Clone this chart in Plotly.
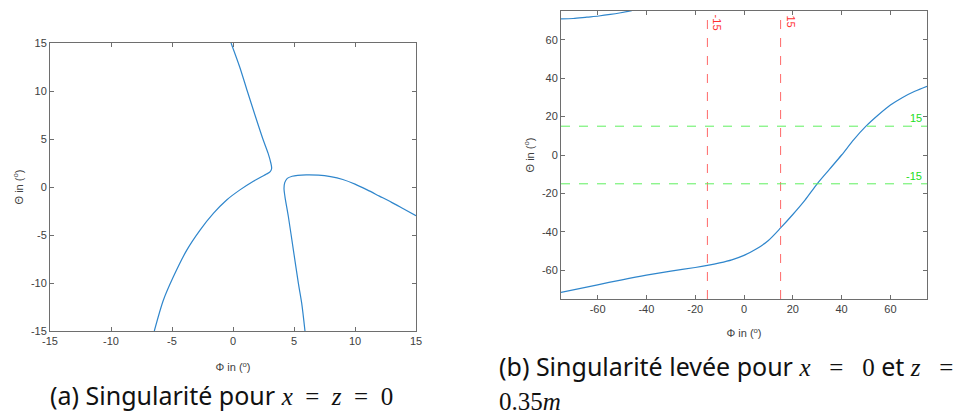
import plotly.graph_objects as go

# ---------------- data ----------------
# (a) singular case x = z = 0
a_branch1_phi = [-0.16, 0.55, 1.17, 1.8, 2.45, 2.88, 3.1, 3.17, 3.05, 2.75, 2.3, 1.67,
                 0.57, -0.52, -1.61, -2.7, -3.8, -4.89, -5.71, -6.45]
a_branch1_theta = [15, 12.5, 10.0, 7.5, 5.0, 3.5, 2.5, 1.95, 1.6, 1.35, 1.05, 0.6,
                   -0.3, -1.35, -2.75, -4.49, -6.6, -9.36, -11.8, -15]
a_branch2_phi = [5.9, 5.63, 5.36, 4.95, 4.54, 4.26, 4.18, 4.24, 4.45, 4.85, 5.3, 6.0,
                 7.0, 8.0, 9.0, 10.0, 11.0, 12.0, 13.0, 14.0, 15.0]
a_branch2_theta = [-15, -12.1, -10.04, -6.57, -3.1, -1.02, -0.16, 0.45, 0.9, 1.12, 1.22, 1.27,
                   1.24, 1.08, 0.78, 0.3, -0.3, -0.95, -1.6, -2.3, -3.0]

# (b) singularity removed, x = 0, z = 0.35 m
b_main_phi = [-75, -60, -50, -40, -30, -20, -15, -10, -5, 0, 5, 10, 15, 20, 25, 30,
              35, 40, 45, 50, 55, 60, 65, 70, 75]
b_main_theta = [-71.6, -67.6, -65.0, -62.6, -60.5, -58.6, -57.5, -56.2, -54.6, -52.3,
                -49.0, -44.5, -38.0, -31.0, -23.5, -15.0, -7.5, 0.0, 8.0, 15.0, 20.8,
                26.0, 30.0, 33.2, 35.8]
b_top_phi = [-75, -70, -64.4, -59.5, -54.8, -50.5, -46]
b_top_theta = [70.9, 71.1, 71.8, 72.4, 73.2, 74.1, 75.2]

vline_values = [-15, 15]
hline_values = [15, -15]

a_ticks = [-15, -10, -5, 0, 5, 10, 15]
a_ticktext = ["-15", "-10", "-5", "0", "5", "10", "15"]
b_ticks = [-60, -40, -20, 0, 20, 40, 60]
b_ticktext = ["-60", "-40", "-20", "0", "20", "40", "60"]

caption_a = "(a) Singularité pour "
caption_b1 = "(b) Singularité levée pour "
# ---------------- figure ----------------
W, H = 974, 416
BLUE = "#2f86cc"
RED = "#ff6868"
GREEN = "#5ff05f"
TICKFONT = dict(family="Liberation Sans, Arial, sans-serif", size=11, color="#404040")
AXCOL = "#6e6e6e"

fig = go.Figure()
line = dict(color=BLUE, width=1.2, shape="spline", smoothing=0.8)
fig.add_trace(go.Scatter(x=a_branch1_phi, y=a_branch1_theta, mode="lines", line=line,
                         xaxis="x", yaxis="y", showlegend=False, hoverinfo="skip"))
fig.add_trace(go.Scatter(x=a_branch2_phi, y=a_branch2_theta, mode="lines", line=line,
                         xaxis="x", yaxis="y", showlegend=False, hoverinfo="skip"))
fig.add_trace(go.Scatter(x=b_main_phi, y=b_main_theta, mode="lines", line=line,
                         xaxis="x2", yaxis="y2", showlegend=False, hoverinfo="skip"))
fig.add_trace(go.Scatter(x=b_top_phi, y=b_top_theta, mode="lines", line=line,
                         xaxis="x2", yaxis="y2", showlegend=False, hoverinfo="skip"))

def px(v):
    return v / W

def py(v):
    return 1 - v / H

axis_common = dict(showline=True, linecolor=AXCOL, linewidth=1, mirror="ticks",
                   ticks="inside", ticklen=4, tickcolor=AXCOL, showgrid=False,
                   zeroline=False, tickfont=TICKFONT, fixedrange=True, automargin=False)
title_font = dict(family="Liberation Sans, Arial, sans-serif", size=11, color="#404040")
deg = "in (<sup>o</sup>)"

fig.update_layout(
    width=W, height=H, margin=dict(l=0, r=0, t=0, b=0, autoexpand=False),
    paper_bgcolor="white", plot_bgcolor="white",
    xaxis=dict(domain=[px(50), px(416)], range=[-15, 15], tickvals=a_ticks,
               ticktext=a_ticktext, anchor="y",
               title=dict(text="Φ " + deg, font=title_font, standoff=17),
               **axis_common),
    yaxis=dict(domain=[py(331), py(43)], range=[-15, 15], tickvals=a_ticks,
               ticktext=a_ticktext, anchor="x",
               title=dict(text="Θ " + deg, font=title_font, standoff=5),
               **axis_common),
    xaxis2=dict(domain=[px(561), px(927)], range=[-75, 75], tickvals=b_ticks,
                ticktext=b_ticktext, anchor="y2",
                title=dict(text="Φ " + deg, font=title_font, standoff=15),
                **axis_common),
    yaxis2=dict(domain=[py(299), py(11)], range=[-75, 75], tickvals=b_ticks,
                ticktext=b_ticktext, anchor="x2",
                title=dict(text="Θ " + deg, font=title_font, standoff=5),
                **axis_common),
)

# reference lines in panel (b)
for v in vline_values:
    fig.add_shape(type="line", xref="x2", yref="y2 domain", x0=v, x1=v, y0=0, y1=1,
                  line=dict(color=RED, width=1, dash="dash"))
    fig.add_annotation(xref="x2", yref="y2 domain", x=v, y=1, text=str(v),
                       textangle=90, showarrow=False, xanchor="left", yanchor="top",
                       xshift=2, yshift=-2,
                       font=dict(family="Liberation Sans, Arial, sans-serif", size=11,
                                 color="#ff3030"))
for v in hline_values:
    fig.add_shape(type="line", xref="x2 domain", yref="y2", x0=0, x1=1, y0=v, y1=v,
                  line=dict(color=GREEN, width=1, dash="dash"))
    fig.add_annotation(xref="x2 domain", yref="y2", x=1, y=v, text=str(v),
                       showarrow=False, xanchor="right", yanchor="bottom",
                       xshift=-3, yshift=0,
                       font=dict(family="Liberation Sans, Arial, sans-serif", size=11,
                                 color="#22dd22"))

# captions
CAP = dict(family="Noto Sans, Open Sans, sans-serif", size=25, color="#111111")
MATH = "font-family:'Liberation Serif', 'DejaVu Serif', serif"
SP = "\u2002"  # en space, used for TeX-like spacing around '='

def m(s, italic=False):
    inner = f"<i>{s}</i>" if italic else s
    return f"<span style=\"{MATH}\">{inner}</span>"

cap_a_text = (caption_a + m("x", True) + m(SP + "=" + SP) + m("z", True)
              + m(SP + "=" + SP + "0"))
cap_b_text = (caption_b1 + m("x", True) + m(SP + " = " + SP + "0") + " et "
              + m("z", True) + m(SP + " ="))
cap_b2_text = m("0.35") + m("m", True)

fig.add_annotation(xref="paper", yref="paper", x=px(48), y=py(395), text=cap_a_text,
                   showarrow=False, xanchor="left", yanchor="middle", font=CAP)
fig.add_annotation(xref="paper", yref="paper", x=px(497), y=py(366), text=cap_b_text,
                   showarrow=False, xanchor="left", yanchor="middle", font=CAP)
fig.add_annotation(xref="paper", yref="paper", x=px(497), y=py(401), text=cap_b2_text,
                   showarrow=False, xanchor="left", yanchor="middle", font=CAP)

# remove the browser's default 8px page margin so the figure fills the window
fig.write_html("out.html",
               config={"displayModeBar": False, "staticPlot": True},
               post_script="document.body.style.margin='0';"
                           "document.body.style.overflow='hidden';")
